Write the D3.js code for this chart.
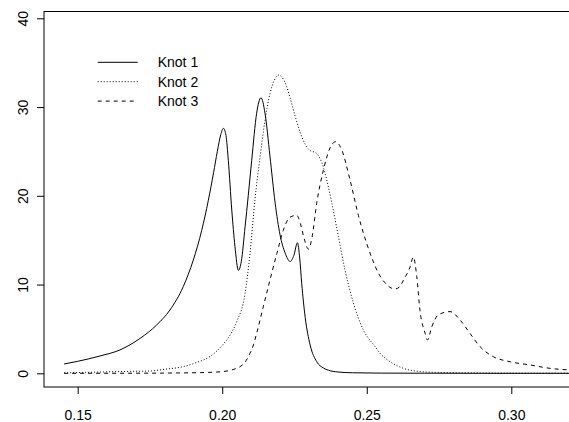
<!DOCTYPE html>
<html>
<head>
<meta charset="utf-8">
<script src="https://cdn.jsdelivr.net/npm/d3@7"></script>
<style>
  html, body { margin: 0; padding: 0; background: #fff; }
  svg { display: block; }
  text { font-family: "Liberation Sans", Arial, Helvetica, sans-serif; fill: #000; }
</style>
</head>
<body>
<svg id="chart" width="569" height="422"></svg>
<script>
// Density curves for three knots
const knot1X = [0.1453, 0.1500, 0.1577, 0.1646, 0.1716, 0.1773, 0.1819, 0.1865, 0.1900, 0.1929, 0.1952, 0.1970, 0.1983, 0.1995, 0.2004, 0.2013, 0.2021, 0.2033, 0.2044, 0.2056, 0.2066, 0.2079, 0.2090, 0.2102, 0.2119, 0.2134, 0.2148, 0.2165, 0.2183, 0.2200, 0.2217, 0.2235, 0.2248, 0.2260, 0.2268, 0.2275, 0.2287, 0.2304, 0.2327, 0.2350, 0.2367, 0.2400, 0.2450, 0.2550, 0.2700, 0.2900, 0.3100, 0.3220];
const knot1Y = [1.05, 1.35, 1.95, 2.63, 3.94, 5.44, 7.13, 9.76, 12.77, 16.1, 19.5, 22.6, 25.0, 26.9, 27.6, 26.8, 24.0, 18.4, 14.3, 11.6, 12.6, 16.5, 20.0, 24.0, 29.3, 31.05, 29.3, 24.5, 19.2, 15.6, 13.6, 12.6, 13.3, 14.7, 13.0, 10.1, 6.3, 3.2, 1.3, 0.6, 0.35, 0.15, 0.06, 0.02, 0.01, 0.0, 0.0, 0.0];

const knot2X = [0.1453, 0.1550, 0.1650, 0.1750, 0.1800, 0.1865, 0.1910, 0.1958, 0.2004, 0.2027, 0.2050, 0.2079, 0.2096, 0.2113, 0.2131, 0.2148, 0.2165, 0.2180, 0.2194, 0.2208, 0.2223, 0.2235, 0.2252, 0.2269, 0.2287, 0.2300, 0.2310, 0.2322, 0.2333, 0.2345, 0.2356, 0.2379, 0.2402, 0.2425, 0.2454, 0.2488, 0.2529, 0.2546, 0.2581, 0.2627, 0.2684, 0.2750, 0.2850, 0.3000, 0.3220];
const knot2Y = [0.05, 0.12, 0.2, 0.26, 0.45, 0.75, 1.2, 1.9, 3.3, 4.3, 5.8, 9.0, 13.5, 19.5, 24.4, 28.5, 31.5, 33.0, 33.6, 33.3, 32.3, 31.0, 29.0, 27.2, 25.8, 25.2, 25.0, 24.9, 24.5, 23.7, 22.5, 19.2, 15.4, 11.6, 7.9, 4.9, 3.0, 2.25, 1.3, 0.56, 0.2, 0.1, 0.05, 0.02, 0.01];

const knot3X = [0.1453, 0.1700, 0.1850, 0.1950, 0.2004, 0.2040, 0.2062, 0.2080, 0.2096, 0.2108, 0.2119, 0.2142, 0.2165, 0.2189, 0.2211, 0.2235, 0.2258, 0.2270, 0.2285, 0.2298, 0.2310, 0.2327, 0.2350, 0.2373, 0.2393, 0.2413, 0.2442, 0.2471, 0.2500, 0.2520, 0.2540, 0.2563, 0.2585, 0.2598, 0.2615, 0.2627, 0.2650, 0.2661, 0.2673, 0.2684, 0.2702, 0.2710, 0.2725, 0.2748, 0.2788, 0.2823, 0.2857, 0.2892, 0.2938, 0.2996, 0.3065, 0.3134, 0.3220];
const knot3Y = [0.0, 0.01, 0.04, 0.1, 0.2, 0.45, 0.75, 1.3, 2.25, 3.2, 4.5, 7.5, 10.5, 13.5, 16.1, 17.6, 17.8, 16.9, 15.0, 14.0, 15.2, 19.2, 22.9, 25.4, 26.1, 25.2, 21.8, 17.8, 14.6, 12.8, 11.3, 10.2, 9.6, 9.5, 9.8, 10.5, 12.0, 13.1, 10.9, 7.1, 4.5, 3.75, 5.25, 6.6, 6.95, 6.0, 4.5, 3.0, 1.87, 1.3, 0.94, 0.56, 0.35];

const xTicks = [0.15, 0.20, 0.25, 0.30];
const yTicks = [0, 10, 20, 30, 40];
const seriesNames = ["Knot 1", "Knot 2", "Knot 3"];

const svg = d3.select("#chart");

// plot frame (right side runs past the window edge)
const frame = { left: 44, top: 11.5, right: 580, bottom: 387 };

const x = d3.scaleLinear().domain([0.15, 0.30]).range([77.7, 511.3]);
const y = d3.scaleLinear().domain([0, 40]).range([373.3, 18.3]);

const dashes = [null, "1 2", "4 4"];
const series = [
  { name: seriesNames[0], xs: knot1X, ys: knot1Y },
  { name: seriesNames[1], xs: knot2X, ys: knot2Y },
  { name: seriesNames[2], xs: knot3X, ys: knot3Y }
];

const line = d3.line()
  .x(d => x(d[0]))
  .y(d => y(d[1]))
  .curve(d3.curveMonotoneX);

svg.append("defs").append("clipPath").attr("id", "plotClip")
  .append("rect")
  .attr("x", frame.left).attr("y", frame.top)
  .attr("width", frame.right - frame.left).attr("height", frame.bottom - frame.top);

const curves = svg.append("g").attr("clip-path", "url(#plotClip)");
series.forEach((s, i) => {
  curves.append("path")
    .datum(d3.zip(s.xs, s.ys))
    .attr("d", line)
    .attr("fill", "none")
    .attr("stroke", "#000")
    .attr("stroke-width", 1)
    .attr("stroke-dasharray", dashes[i]);
});

// box
svg.append("rect")
  .attr("x", frame.left).attr("y", frame.top)
  .attr("width", frame.right - frame.left).attr("height", frame.bottom - frame.top)
  .attr("fill", "none").attr("stroke", "#000").attr("stroke-width", 1);

// x axis
const xAxis = d3.axisBottom(x).tickValues(xTicks).tickFormat(d3.format(".2f"))
  .tickSize(7);
const gx = svg.append("g").attr("transform", `translate(0,${frame.bottom})`).call(xAxis);
gx.select(".domain").remove();
gx.selectAll("text").attr("font-size", 14).attr("font-family", null).attr("dy", null)
  .attr("y", 33);

// y axis, labels turned vertical
const yAxis = d3.axisLeft(y).tickValues(yTicks).tickSize(7);
const gy = svg.append("g").attr("transform", `translate(${frame.left},0)`).call(yAxis);
gy.select(".domain").remove();
gy.selectAll("text")
  .attr("font-size", 14).attr("font-family", null)
  .attr("x", null).attr("y", null).attr("dy", null)
  .attr("text-anchor", "middle")
  .attr("transform", "translate(-16.5,0) rotate(-90)");

// legend
const legend = svg.append("g");
series.forEach((s, i) => {
  const ly = 62.3 + i * 19.4;
  legend.append("line")
    .attr("x1", 97.7).attr("x2", 137.7)
    .attr("y1", ly).attr("y2", ly)
    .attr("stroke", "#000").attr("stroke-width", 1)
    .attr("stroke-dasharray", dashes[i]);
  legend.append("text")
    .attr("x", 157.7).attr("y", ly + 5)
    .attr("font-size", 14)
    .text(s.name);
});
</script>
</body>
</html>
